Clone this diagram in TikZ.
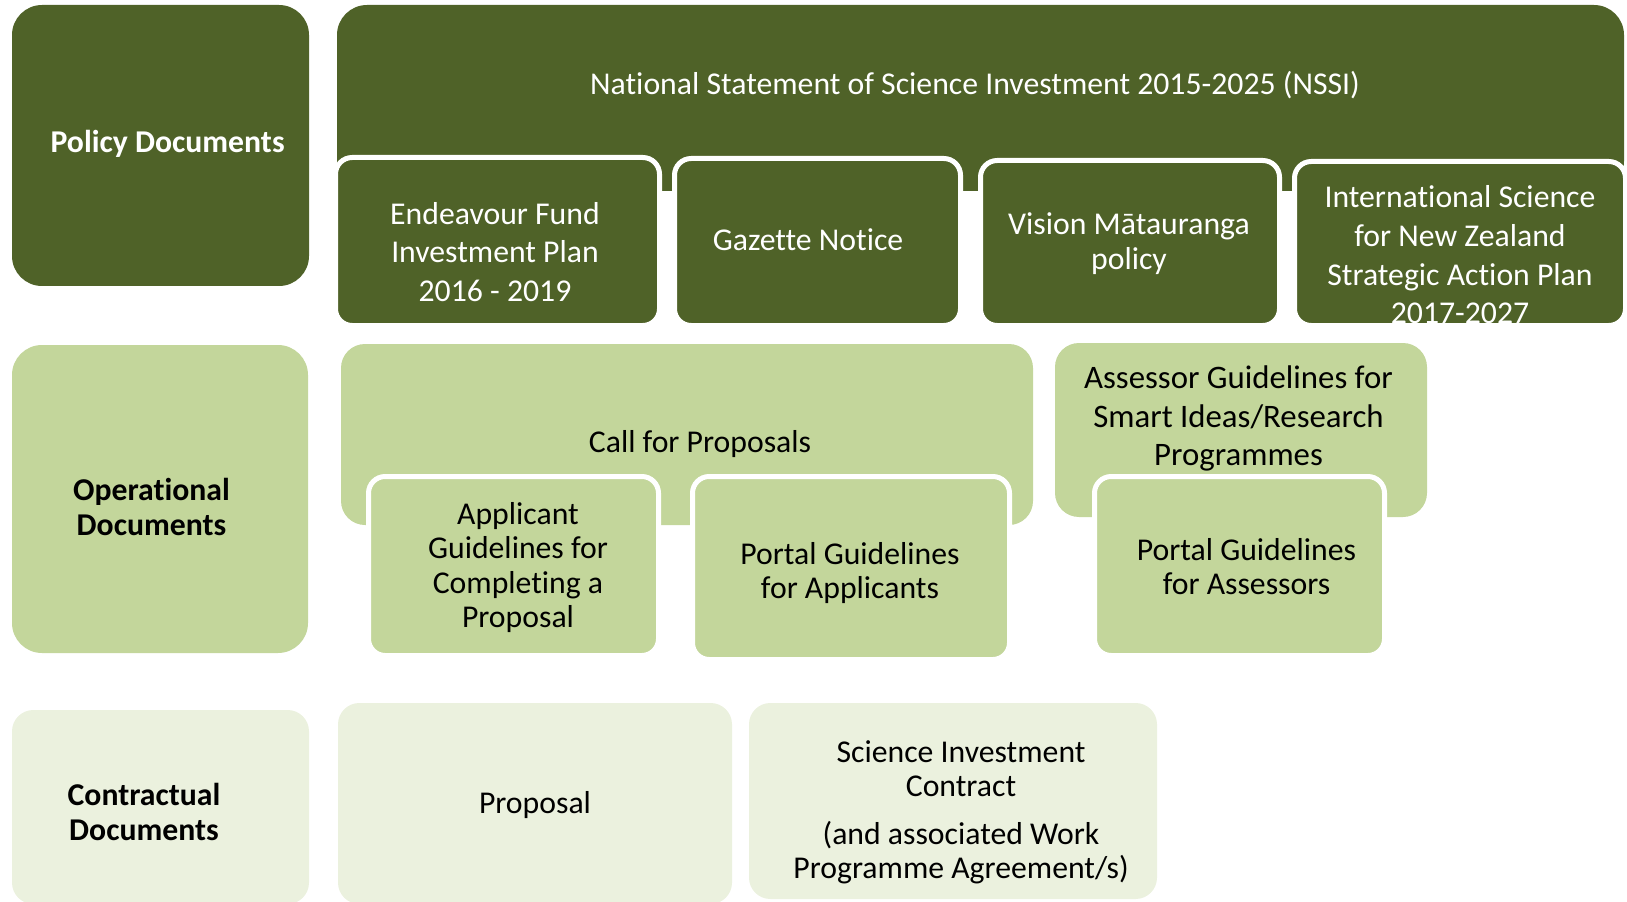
\documentclass[tikz,border=0pt]{standalone}
\usepackage{fontspec}
\setmainfont[Ligatures=NoCommon]{Carlito}
\definecolor{dk}{HTML}{4F6228}
\definecolor{md}{HTML}{C3D69B}
\definecolor{lt}{HTML}{EBF1DE}
\newcommand{\gbox}[6]{%
  \pgfmathsetmacro\gcx{(#3+#5)/2}\pgfmathsetmacro\gcy{(#4+#6)/2}%
  \pgfmathsetmacro\gbw{(#5-#3)*0.75}\pgfmathsetmacro\gbh{(#6-#4)*0.75}%
  \node[#2, minimum width=\gbw pt, minimum height=\gbh pt] (#1) at (\gcx,\gcy) {};}
\newcommand{\cbox}[6]{%
  \pgfmathsetmacro\gcx{(#3+#5)/2}\pgfmathsetmacro\gcy{(#4+#6)/2}%
  \pgfmathsetmacro\gbw{(#5-#3+5)*0.75}\pgfmathsetmacro\gbh{(#6-#4+5)*0.75}%
  \node[#2, draw=white, line width=3.75pt, minimum width=\gbw pt, minimum height=\gbh pt] (#1) at (\gcx,\gcy) {};}
\tikzset{
  shp/.style={rectangle, inner sep=0pt, outer sep=0pt},
  bigdk/.style={shp, fill=dk, rounded corners=22.5pt},
  bigmd/.style={shp, fill=md, rounded corners=22.5pt},
  parmd/.style={shp, fill=md, rounded corners=18pt},
  biglt/.style={shp, fill=lt, rounded corners=16pt},
  childdk/.style={shp, fill=dk, rounded corners=12.5pt},
  childmd/.style={shp, fill=md, rounded corners=12.5pt},
  lbl/.style={align=center, inner sep=0pt},
  wtxt/.style={lbl, text=white, font=\fontsize{23.8pt}{29pt}\selectfont},
  btxt/.style={lbl, text=black, font=\fontsize{23.8pt}{25.9pt}\selectfont},
  btxtw/.style={lbl, text=black, font=\fontsize{24.6pt}{29pt}\selectfont},
}
\begin{document}
\begin{tikzpicture}[x=0.75pt,y=-0.75pt]
\useasboundingbox (0,0) rectangle (1627,902);
% ---- policy row
\gbox{policy}{bigdk}{12}{5}{309}{286}
\gbox{nssi}{bigdk}{337}{5}{1624}{191}
\cbox{endeavour}{childdk}{338}{160}{657}{323}
\cbox{gazette}{childdk}{677}{161}{958}{323}
\cbox{vision}{childdk}{983}{163}{1277}{323}
\cbox{intl}{childdk}{1297}{164}{1623}{323}
\node[wtxt] (tpolicy) at (167.6,144) {\bfseries Policy Documents};
\node[wtxt] (tnssi) at (975,85) {National Statement of Science Investment 2015-2025 (NSSI)};
\node[wtxt] (tendeavour) at (495,252) {Endeavour Fund\\Investment Plan\\2016 - 2019};
\node[wtxt] (tgazette) at (808,240) {Gazette Notice};
\node[wtxt, font=\fontsize{23.8pt}{26.3pt}\selectfont] (tvision) at (1129,243.5) {Vision Mātauranga\\policy};
\node[wtxt] (tintl) at (1460,255) {International Science\\for New Zealand\\Strategic Action Plan\\2017-2027};
% ---- operational row
\gbox{oper}{bigmd}{12}{345}{308}{653}
\gbox{call}{parmd}{341}{344}{1033}{525}
\cbox{applicant}{childmd}{371}{479}{656}{653}
\cbox{portalapp}{childmd}{695}{479}{1007}{657}
\gbox{assessor}{parmd}{1055}{343}{1427}{517}
\cbox{portalass}{childmd}{1097}{479}{1382}{653}
\node[btxt] (toper) at (151.5,507) {\bfseries Operational\\\bfseries Documents};
\node[btxt] (tcall) at (700,444) {Call for Proposals};
\node[btxt] (tapplicant) at (518,567.5) {Applicant\\Guidelines for\\Completing a\\Proposal};
\node[btxt] (tportalapp) at (850,573) {Portal Guidelines\\for Applicants};
\node[btxtw] (tassessor) at (1238.5,418.5) {Assessor Guidelines for\\Smart Ideas/Research\\Programmes};
\node[btxt] (tportalass) at (1246.5,566.5) {Portal Guidelines\\for Assessors};
% ---- contractual row
\gbox{contr}{biglt}{12}{710}{309}{904}
\gbox{proposal}{biglt}{338}{703}{732}{904}
\gbox{sic}{biglt}{749}{703}{1157}{899}
\node[btxt] (tcontr) at (144,812) {\bfseries Contractual\\\bfseries Documents};
\node[btxt] (tproposal) at (535,805) {Proposal};
\node[btxt] (tsic) at (961,812.5) {Science Investment\\Contract\\[9.75pt](and associated Work\\Programme Agreement/s)};
\end{tikzpicture}
\end{document}
